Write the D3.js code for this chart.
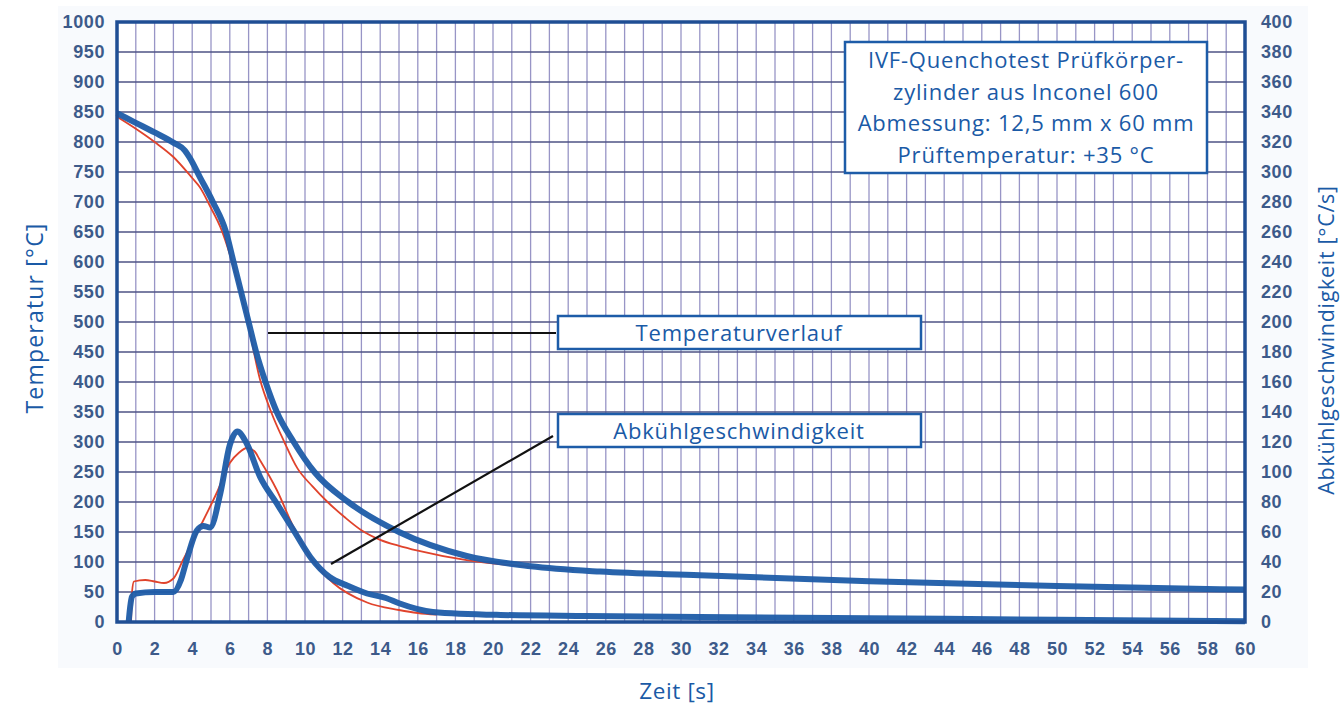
<!DOCTYPE html>
<html>
<head>
<meta charset="utf-8">
<script src="https://cdn.jsdelivr.net/npm/d3@7"></script>
<style>
  html, body { margin: 0; padding: 0; background: #ffffff; }
  svg { display: block; }
</style>
</head>
<body>
<svg id="chart" width="1342" height="708"></svg>
<script>
// values
const tempTicks = d3.range(0, 1001, 50);
const rateTicks = d3.range(0, 401, 20);
const timeTicks = d3.range(0, 61, 2);

const tempBlueTime = [0, 1, 2, 3, 3.6, 3.9, 4.4, 5.1, 5.8, 6.2, 6.6, 7.0, 7.4, 7.9, 8.5, 9.4, 10.5, 12.3, 15, 18.6, 22, 25.7, 31, 40, 50, 60];
const tempBlue = [848, 832, 816, 799, 786, 772, 742, 700, 650, 600, 550, 500, 450, 400, 350, 300, 250, 200, 150, 110, 93, 84, 78, 68, 60, 54];

const tempRedTime = [0, 1, 2, 3, 4, 4.4, 5, 5.5, 6.2, 6.9, 7.6, 8.2, 8.9, 9.6, 10.4, 11.2, 12.1, 13.0, 14, 15, 16, 18.6, 22, 24.3];
const tempRed = [842, 822, 800, 775, 740, 725, 690, 658, 592, 508, 405, 350, 300, 256, 226, 200, 175, 153, 137, 127, 119, 103, 92, 87];

const rateBlueTime = [0.62, 0.7, 0.8, 1, 2, 3, 3.4, 3.7, 4.25, 4.6, 4.95, 5.5, 6.0, 6.4, 6.9, 7.6, 8.5, 9.4, 10.3, 11.3, 12.3, 13.3, 14.3, 15, 16.8, 20.4, 25, 31, 40, 50, 60];
const rateBlue = [0, 10, 17, 19, 20, 20, 28, 41, 61, 64, 63, 86, 118, 127, 119, 97, 79, 61, 43, 30, 24, 19, 16, 12.5, 6.7, 4.7, 4, 3.3, 2.5, 1.5, 0.5];

const rateRedTime = [0.75, 0.8, 0.9, 1.5, 2, 2.5, 3, 3.5, 4.4, 5.3, 6.0, 6.5, 6.9, 7.3, 7.6, 8.5, 9.4, 10.4, 11.5, 13.3, 15, 16, 17];
const rateRed = [0, 20, 27, 28, 27, 26, 29, 41, 63, 86, 106, 113, 116, 114, 108, 88, 63, 41, 26, 13, 8, 6, 5];

const infoLines = ["IVF-Quenchotest Prüfkörper-", "zylinder aus Inconel 600", "Abmessung: 12,5 mm x 60 mm", "Prüftemperatur: +35 °C"];

const BLUE = "#1d5ca8";
const TEXT_BLUE = "#1a5aa6";
const TICK_COL = "#3d5a8a";
const RED = "#e0432c";

const svg = d3.select("#chart");
const L = 117, R = 1245, T = 22, B = 622;

const x = d3.scaleLinear().domain([0, 60]).range([L, R]);
const yT = d3.scaleLinear().domain([0, 1000]).range([B, T]);
const yR = d3.scaleLinear().domain([0, 400]).range([B, T]);

// faint tinted background behind the chart
svg.append("rect")
    .attr("x", 58).attr("y", 6)
    .attr("width", 1250).attr("height", 662)
    .attr("fill", "#f8fafd");
svg.append("rect")
    .attr("x", L).attr("y", T)
    .attr("width", R - L).attr("height", B - T)
    .attr("fill", "#ffffff");

// grid
const grid = svg.append("g");
grid.selectAll(".vgrid")
    .data(d3.range(1, 60))
    .join("line")
    .attr("x1", d => x(d)).attr("x2", d => x(d))
    .attr("y1", T).attr("y2", B)
    .attr("stroke", "#9895c6")
    .attr("stroke-width", 1.3);
grid.selectAll(".hgrid")
    .data(d3.range(50, 1000, 50))
    .join("line")
    .attr("x1", L).attr("x2", R)
    .attr("y1", d => yT(d)).attr("y2", d => yT(d))
    .attr("stroke", "#4e5384")
    .attr("stroke-width", 1.3);

// axes (labels only, frame drawn separately)
const tickFont = g => g
    .style("font-family", "'Liberation Sans', Arial, sans-serif")
    .style("font-weight", "bold")
    .style("font-size", "18px")
    .style("letter-spacing", "0.6px")
    .attr("fill", TICK_COL);

const leftAxis = svg.append("g")
    .attr("transform", `translate(${L},0)`)
    .call(d3.axisLeft(yT).tickValues(tempTicks).tickFormat(d3.format("d")).tickSize(0).tickPadding(12));
leftAxis.select(".domain").remove();
leftAxis.selectAll("text").call(tickFont);

const rightAxis = svg.append("g")
    .attr("transform", `translate(${R},0)`)
    .call(d3.axisRight(yR).tickValues(rateTicks).tickFormat(d3.format("d")).tickSize(0).tickPadding(16));
rightAxis.select(".domain").remove();
rightAxis.selectAll("text").call(tickFont);

const bottomAxis = svg.append("g")
    .attr("transform", `translate(0,${B})`)
    .call(d3.axisBottom(x).tickValues(timeTicks).tickFormat(d3.format("d")).tickSize(0).tickPadding(20));
bottomAxis.select(".domain").remove();
bottomAxis.selectAll("text").call(tickFont);

// curves
const lineT = (ts, vs) => d3.line()
    .x((d, i) => x(ts[i]))
    .y(d => yT(d))
    .curve(d3.curveMonotoneX)(vs);
const lineR = (ts, vs) => d3.line()
    .x((d, i) => x(ts[i]))
    .y(d => yR(d))
    .curve(d3.curveMonotoneX)(vs);

svg.append("path").attr("d", lineT(tempRedTime, tempRed))
    .attr("fill", "none").attr("stroke", RED).attr("stroke-width", 1.8);
svg.append("path").attr("d", lineR(rateRedTime, rateRed))
    .attr("fill", "none").attr("stroke", RED).attr("stroke-width", 1.8);
svg.append("path").attr("d", lineT(tempBlueTime, tempBlue))
    .attr("fill", "none").attr("stroke", BLUE).attr("stroke-width", 6)
    .attr("stroke-linejoin", "round").attr("opacity", 0.95);
svg.append("path").attr("d", lineR(rateBlueTime, rateBlue))
    .attr("fill", "none").attr("stroke", BLUE).attr("stroke-width", 6)
    .attr("stroke-linejoin", "round").attr("opacity", 0.95);

// frame
svg.append("rect")
    .attr("x", L).attr("y", T)
    .attr("width", R - L).attr("height", B - T)
    .attr("fill", "none")
    .attr("stroke", "#1f4e94")
    .attr("stroke-width", 3.5);

// axis titles
const titleStyle = (s, size, spacing) => s
    .style("font-family", "'Open Sans', 'Noto Sans', sans-serif")
    .style("font-size", size + "px")
    .style("letter-spacing", spacing + "px")
    .attr("fill", TEXT_BLUE)
    .attr("text-anchor", "middle");

svg.append("text")
    .attr("transform", "translate(43,318) rotate(-90)")
    .text("Temperatur [°C]")
    .call(titleStyle, 23, 1.2);
svg.append("text")
    .attr("transform", "translate(1334,340) rotate(-90)")
    .text("Abkühlgeschwindigkeit [°C/s]")
    .call(titleStyle, 21.5, 0.7);
svg.append("text")
    .attr("x", 677).attr("y", 699)
    .text("Zeit [s]")
    .call(titleStyle, 22.5, 0.6);

// info box
svg.append("rect")
    .attr("x", 845).attr("y", 42)
    .attr("width", 362).attr("height", 131)
    .attr("fill", "#ffffff")
    .attr("stroke", BLUE).attr("stroke-width", 2.5);
svg.append("g").selectAll("text")
    .data(infoLines)
    .join("text")
    .attr("x", 1026)
    .attr("y", (d, i) => 68 + i * 31.5)
    .text(d => d)
    .call(titleStyle, 22, 0.8);

// legend labels with leader lines
const labels = [
    { text: "Temperaturverlauf", y: 316, from: [268, 333], to: [556, 333] },
    { text: "Abkühlgeschwindigkeit", y: 414, from: [331, 564], to: [553, 436] }
];
labels.forEach(l => {
    svg.append("line")
        .attr("x1", l.from[0]).attr("y1", l.from[1])
        .attr("x2", l.to[0]).attr("y2", l.to[1])
        .attr("stroke", "#111").attr("stroke-width", 2.2);
    svg.append("rect")
        .attr("x", 558).attr("y", l.y)
        .attr("width", 363).attr("height", 33)
        .attr("fill", "#ffffff")
        .attr("stroke", BLUE).attr("stroke-width", 2.5);
    svg.append("text")
        .attr("x", 739).attr("y", l.y + 24.5)
        .text(l.text)
        .call(titleStyle, 22, 0.8);
});
</script>
</body>
</html>
